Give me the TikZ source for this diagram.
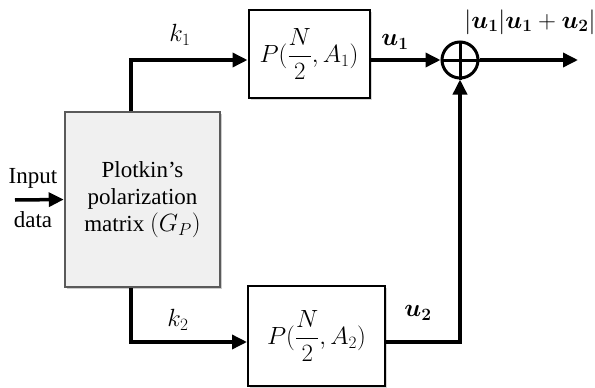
\documentclass[tikz,border=0pt]{standalone}
\usepackage{fontspec}
\setmainfont{Liberation Serif}
\usepackage{amsmath,bm}
\usetikzlibrary{arrows.meta,shadows}
\definecolor{boxgray}{HTML}{F0F0F0}
\definecolor{edgegray}{HTML}{5A5A5A}
\begin{document}
\begin{tikzpicture}[x=1pt,y=-1pt,
  font=\fontsize{23}{27}\selectfont,
  arr/.style={line width=3.5pt,-{Triangle[length=15pt,width=14pt]}},
  graybox/.style={draw=edgegray,line width=2.5pt,fill=boxgray,align=center,
    minimum width=155pt,minimum height=175pt,inner sep=0pt,
    drop shadow={shadow xshift=2pt,shadow yshift=-2pt,fill=black!40,opacity=.5}},
  pbox/.style={draw=black,line width=2pt,fill=white,inner sep=0pt,
    font=\fontsize{24}{28}\selectfont,
    drop shadow={shadow xshift=2pt,shadow yshift=-2pt,fill=black!40,opacity=.4}},
  lbl/.style={inner sep=0pt},
  mlbl/.style={inner sep=0pt,font=\fontsize{25}{29}\selectfont}]
\useasboundingbox (0,0) rectangle (595,388);

\node[graybox] (gp) at (142.5,199.5) {Plotkin's\\polarization\\matrix $(G_P)$};
\node[pbox,minimum width=121pt,minimum height=88pt] (p1) at (309,54) {$P(\dfrac{N}{2},A_1)$};
\node[pbox,minimum width=137pt,minimum height=100pt] (p2) at (316.5,336) {$P(\dfrac{N}{2},A_2)$};
\node[circle,draw,line width=3pt,minimum size=36pt,inner sep=0pt] (sum) at (460,60) {};
\draw[line width=3pt] (sum.north) -- (sum.south) (sum.west) -- (sum.east);

\coordinate (in) at (15,200);
\coordinate (out) at (578,60);

\draw[arr] (in) -- (gp.west);
\draw[arr] ([xshift=-11.5pt]gp.north) |- (p1.west |- sum);
\draw[arr] (p1.east |- sum) -- (sum.west);
\draw[arr] (sum.east) -- (out);
\draw[arr] ([xshift=-11.5pt]gp.south) |- ([yshift=-6pt]p2.west);
\draw[arr] ([yshift=-6pt]p2.east) -| (sum.south);

\node[lbl] (linput) at (33,178) {Input};
\node[lbl] (ldata) at (33,220) {data};
\node[mlbl] (lk1) at (180,35) {$k_1$};
\node[mlbl] (lk2) at (178,320) {$k_2$};
\node[mlbl] (lu1) at (395,42) {$\bm{u_1}$};
\node[mlbl] (lu2) at (418,313) {$\bm{u_2}$};
\node[mlbl] (lout) at (530,22) {$|\bm{u_1}|\bm{u_1}+\bm{u_2}|$};
\end{tikzpicture}
\end{document}
